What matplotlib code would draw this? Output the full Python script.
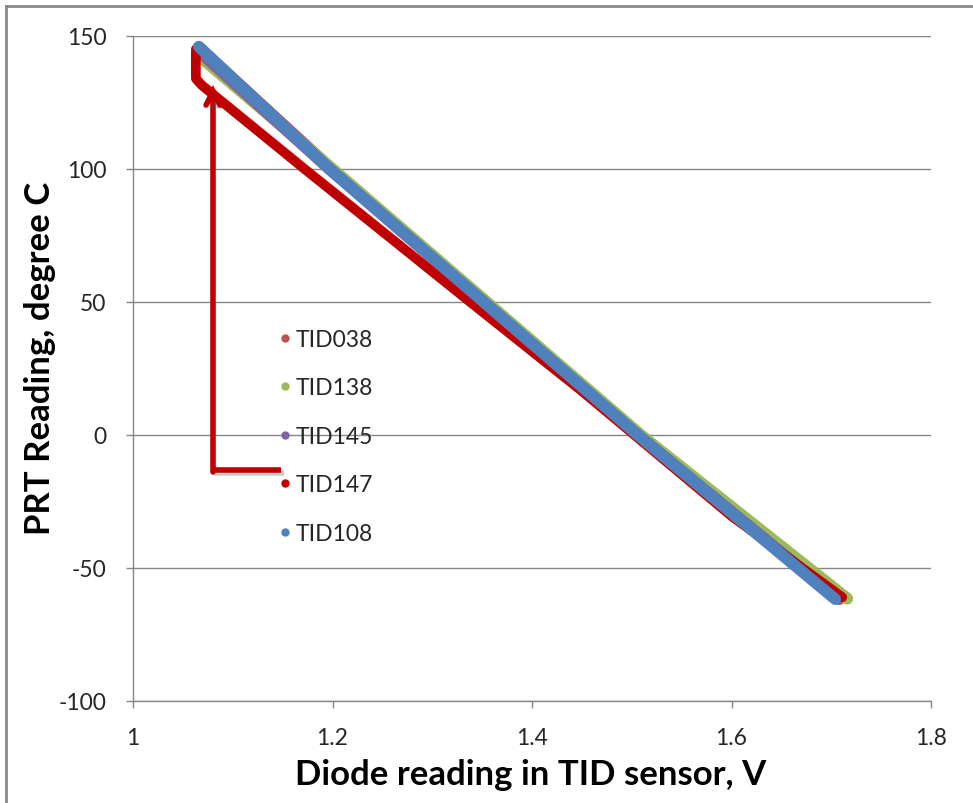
import matplotlib
matplotlib.use("Agg")
import matplotlib.pyplot as plt
import matplotlib.patheffects as pe
from matplotlib.lines import Line2D

plt.rcParams['font.family'] = ['Lato', 'DejaVu Sans']

# ---- data ----
x_tid038 = [1.066, 1.197, 1.506, 1.708]
y_tid038 = [145.5, 100.5, 0.5, -61.5]

x_tid138 = [1.068, 1.200, 1.509, 1.716]
y_tid138 = [142.0, 100.0, 0.0, -61.5]

x_tid145 = [1.067, 1.197, 1.506, 1.706]
y_tid145 = [144.0, 100.0, 0.0, -61.5]

x_tid147 = [1.063, 1.063, 1.069, 1.172, 1.338, 1.450, 1.600, 1.711]
y_tid147 = [145.0, 134.0, 131.5, 100.0, 50.0, 16.5, -30.5, -61.0]

x_tid108 = [1.066, 1.197, 1.506, 1.704]
y_tid108 = [146.0, 100.0, 0.0, -61.7]

series_names = ["TID038", "TID138", "TID145", "TID147", "TID108"]
series_colors = ["#C0504D", "#9BBB59", "#8064A2", "#C00000", "#4F81BD"]

x_ticks = [1, 1.2, 1.4, 1.6, 1.8]
x_tick_labels = ["1", "1.2", "1.4", "1.6", "1.8"]
y_ticks = [-100, -50, 0, 50, 100, 150]

W, H = 973, 804
fig = plt.figure(figsize=(W / 100, H / 100), dpi=100)
ax = fig.add_axes([133 / W, 1 - 702 / H, (931 - 133) / W, (702 - 37) / H])

xs = [x_tid038, x_tid138, x_tid145, x_tid147, x_tid108]
ys = [y_tid038, y_tid138, y_tid145, y_tid147, y_tid108]
widths = [9.2, 8.6, 8.6, 7.0, 8.4]
for x, y, c, lw in zip(xs, ys, series_colors, widths):
    ax.plot(x, y, color=c, lw=lw, solid_capstyle='round', solid_joinstyle='round', zorder=3)

# legend (marker-only)
handles = [Line2D([], [], linestyle='none', marker='o', markersize=5,
                  markerfacecolor=c, markeredgecolor=c) for c in series_colors]
leg = ax.legend(handles, series_names, loc='upper left',
                bbox_to_anchor=((278 - 133) / (931 - 133), 1 - (330 - 37) / (702 - 37)),
                frameon=False, fontsize=16.5, labelspacing=1.2, handlelength=0.6,
                handletextpad=0.15, borderaxespad=0, borderpad=0)
for t in leg.get_texts():
    t.set_color('#262626')

ax.set_xlim(1, 1.8)
ax.set_ylim(-100, 150)
ax.set_xticks(x_ticks)
ax.set_xticklabels(x_tick_labels)
ax.set_yticks(y_ticks)
ax.set_yticklabels([str(v) for v in y_ticks])

ax.grid(axis='y', color='#868686', lw=1.0, zorder=0)
ax.set_axisbelow(True)
for s in ['top', 'right']:
    ax.spines[s].set_visible(False)
for s in ['left', 'bottom']:
    ax.spines[s].set_color('#868686')
    ax.spines[s].set_linewidth(1.0)
ax.tick_params(axis='both', colors='#868686', length=5, width=1, labelcolor='#262626',
               labelsize=16.5)
ax.tick_params(axis='x', pad=14)
ax.tick_params(axis='y', pad=14)

ax.set_xlabel("Diode reading in TID sensor, V", fontsize=25, fontweight='bold',
              color='#000000', labelpad=10)
ax.set_ylabel("PRT Reading, degree C", fontsize=25, fontweight='bold',
              color='#000000', labelpad=10)
ax.xaxis.set_label_coords((531 - 133) / (931 - 133), -(775 - 702) / (702 - 37))
ax.yaxis.set_label_coords(-(133 - 40) / (931 - 133), (702 - 358) / (702 - 37))
ax.xaxis.label.set_va('center')
ax.yaxis.label.set_va('center')

# annotation arrow (figure pixel coordinates)
def fx(px):
    return px / W

def fy(py):
    return 1 - py / H

arrow_color = '#C00000'
shadow = [pe.SimpleLineShadow(offset=(2.5, -2.5), alpha=0.3, shadow_color='#555555'), pe.Normal()]
seg = Line2D([fx(281), fx(211)], [fy(471), fy(471)], transform=fig.transFigure,
             color=arrow_color, lw=4, solid_capstyle='butt', path_effects=shadow, zorder=6)
fig.add_artist(seg)
ann = ax.annotate("", xy=(fx(213), fy(86)), xycoords='figure fraction',
                  xytext=(fx(213), fy(473)), textcoords='figure fraction',
                  arrowprops=dict(arrowstyle='->,head_length=1.0,head_width=0.5',
                                  color=arrow_color, lw=4, shrinkA=0, shrinkB=0,
                                  joinstyle='miter'), zorder=6)
ann.arrow_patch.set_path_effects([pe.SimplePatchShadow(offset=(2.5, -2.5), alpha=0.3,
                                                       shadow_rgbFace='#555555'), pe.Normal()])

# outer frame of the chart area
fig.add_artist(Line2D([fx(6), fx(6)], [fy(7), 0], transform=fig.transFigure, color='#8a8a8a', lw=2))
fig.add_artist(Line2D([fx(6), 1], [fy(7), fy(7)], transform=fig.transFigure, color='#8a8a8a', lw=2))

fig.savefig("out.png", dpi=100)
